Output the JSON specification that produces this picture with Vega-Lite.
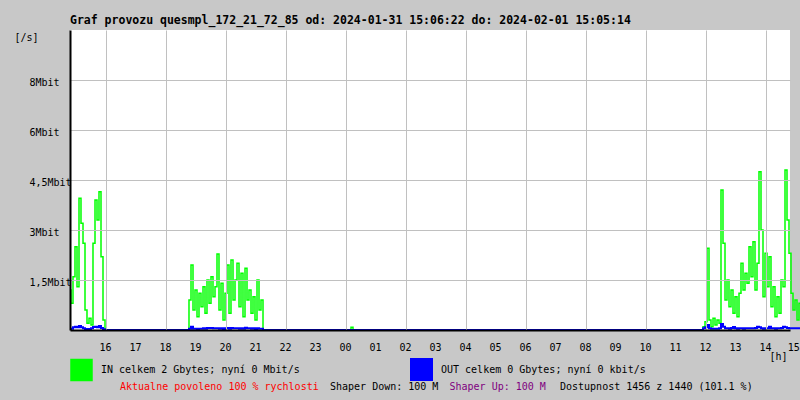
{
  "$schema": "https://vega.github.io/schema/vega-lite/v6.json",
  "width": 720,
  "height": 300,
  "autosize": {"type": "none"},
  "padding": {"left": 70, "top": 30, "right": 10, "bottom": 70},
  "background": "#c8c8c8",
  "config": {"view": {"fill": "white", "stroke": null}, "font": "DejaVu Sans Mono"},
  "title": {"text": "Graf provozu quesmpl_172_21_72_85 od: 2024-01-31 15:06:22 do: 2024-02-01 15:05:14", "anchor": "start", "frame": "group", "font": "DejaVu Sans Mono", "fontSize": 11.5, "fontWeight": "bold", "color": "black", "offset": -5, "baseline": "alphabetic"},
  "layer": [
    {
      "data": {"values": [
        {"h": 14.815, "in": 1.2, "out": 0.03},
        {"h": 14.882, "in": 0.8, "out": 0.04},
        {"h": 14.948, "in": 1.6, "out": 0.08},
        {"h": 15.015, "in": 2.5, "out": 0.1},
        {"h": 15.082, "in": 1.3, "out": 0.08},
        {"h": 15.148, "in": 3.95, "out": 0.12},
        {"h": 15.215, "in": 3.2, "out": 0.08},
        {"h": 15.282, "in": 2.6, "out": 0.05},
        {"h": 15.348, "in": 0.6, "out": 0.03},
        {"h": 15.415, "in": 0.2, "out": 0.02},
        {"h": 15.482, "in": 0.35, "out": 0.03},
        {"h": 15.548, "in": 0.15, "out": 0.05},
        {"h": 15.615, "in": 2.6, "out": 0.09},
        {"h": 15.682, "in": 3.9, "out": 0.1},
        {"h": 15.748, "in": 3.3, "out": 0.08},
        {"h": 15.815, "in": 4.15, "out": 0.12},
        {"h": 15.882, "in": 2.2, "out": 0.06},
        {"h": 15.948, "in": 0.3, "out": 0.02},
        {"h": 16.015, "in": 0, "out": 0},
        {"h": 18.748, "in": 0, "out": 0},
        {"h": 18.815, "in": 0.9, "out": 0.04},
        {"h": 18.882, "in": 1.95, "out": 0.1},
        {"h": 18.948, "in": 0.6, "out": 0.04},
        {"h": 19.015, "in": 1.2, "out": 0.04},
        {"h": 19.082, "in": 0.4, "out": 0.03},
        {"h": 19.148, "in": 1.1, "out": 0.04},
        {"h": 19.215, "in": 0.7, "out": 0.04},
        {"h": 19.282, "in": 1.3, "out": 0.05},
        {"h": 19.348, "in": 0.5, "out": 0.04},
        {"h": 19.415, "in": 1.5, "out": 0.06},
        {"h": 19.482, "in": 0.8, "out": 0.06},
        {"h": 19.548, "in": 1.6, "out": 0.06},
        {"h": 19.615, "in": 1.0, "out": 0.05},
        {"h": 19.682, "in": 1.3, "out": 0.05},
        {"h": 19.748, "in": 2.28, "out": 0.05},
        {"h": 19.815, "in": 0.6, "out": 0.04},
        {"h": 19.882, "in": 1.4, "out": 0.05},
        {"h": 19.948, "in": 0.3, "out": 0.03},
        {"h": 20.015, "in": 1.1, "out": 0.05},
        {"h": 20.082, "in": 1.95, "out": 0.06},
        {"h": 20.148, "in": 0.5, "out": 0.04},
        {"h": 20.215, "in": 2.1, "out": 0.06},
        {"h": 20.282, "in": 0.9, "out": 0.05},
        {"h": 20.348, "in": 1.5, "out": 0.05},
        {"h": 20.415, "in": 2.0, "out": 0.05},
        {"h": 20.482, "in": 0.7, "out": 0.04},
        {"h": 20.548, "in": 1.7, "out": 0.05},
        {"h": 20.615, "in": 0.4, "out": 0.04},
        {"h": 20.682, "in": 1.85, "out": 0.07},
        {"h": 20.748, "in": 0.9, "out": 0.05},
        {"h": 20.815, "in": 1.2, "out": 0.05},
        {"h": 20.882, "in": 0.5, "out": 0.04},
        {"h": 20.948, "in": 1.0, "out": 0.05},
        {"h": 21.015, "in": 0.3, "out": 0.03},
        {"h": 21.082, "in": 1.5, "out": 0.05},
        {"h": 21.148, "in": 0.6, "out": 0.04},
        {"h": 21.215, "in": 0.9, "out": 0.04},
        {"h": 21.282, "in": 0, "out": 0},
        {"h": 24.148, "in": 0, "out": 0},
        {"h": 24.215, "in": 0.08, "out": 0},
        {"h": 24.282, "in": 0, "out": 0},
        {"h": 35.882, "in": 0, "out": 0},
        {"h": 35.948, "in": 0.1, "out": 0.05},
        {"h": 36.015, "in": 0.25, "out": 0.08},
        {"h": 36.082, "in": 2.45, "out": 0.15},
        {"h": 36.148, "in": 0.3, "out": 0.05},
        {"h": 36.215, "in": 0.1, "out": 0.04},
        {"h": 36.282, "in": 0.35, "out": 0.04},
        {"h": 36.348, "in": 0.15, "out": 0.04},
        {"h": 36.415, "in": 0.3, "out": 0.04},
        {"h": 36.482, "in": 0.2, "out": 0.05},
        {"h": 36.548, "in": 4.2, "out": 0.18},
        {"h": 36.615, "in": 2.6, "out": 0.1},
        {"h": 36.682, "in": 0.9, "out": 0.05},
        {"h": 36.748, "in": 1.5, "out": 0.05},
        {"h": 36.815, "in": 0.7, "out": 0.04},
        {"h": 36.882, "in": 1.2, "out": 0.06},
        {"h": 36.948, "in": 0.5, "out": 0.09},
        {"h": 37.015, "in": 1.0, "out": 0.05},
        {"h": 37.082, "in": 0.4, "out": 0.04},
        {"h": 37.148, "in": 1.1, "out": 0.05},
        {"h": 37.215, "in": 2.0, "out": 0.05},
        {"h": 37.282, "in": 1.2, "out": 0.04},
        {"h": 37.348, "in": 1.7, "out": 0.05},
        {"h": 37.415, "in": 1.4, "out": 0.05},
        {"h": 37.482, "in": 2.5, "out": 0.05},
        {"h": 37.548, "in": 1.6, "out": 0.05},
        {"h": 37.615, "in": 2.65, "out": 0.05},
        {"h": 37.682, "in": 1.2, "out": 0.06},
        {"h": 37.748, "in": 2.0, "out": 0.1},
        {"h": 37.815, "in": 4.75, "out": 0.08},
        {"h": 37.882, "in": 3.0, "out": 0.05},
        {"h": 37.948, "in": 1.0, "out": 0.04},
        {"h": 38.015, "in": 2.3, "out": 0.05},
        {"h": 38.082, "in": 1.3, "out": 0.05},
        {"h": 38.148, "in": 2.2, "out": 0.1},
        {"h": 38.215, "in": 0.7, "out": 0.05},
        {"h": 38.282, "in": 1.3, "out": 0.05},
        {"h": 38.348, "in": 0.4, "out": 0.04},
        {"h": 38.415, "in": 1.0, "out": 0.05},
        {"h": 38.482, "in": 0.5, "out": 0.05},
        {"h": 38.548, "in": 1.5, "out": 0.06},
        {"h": 38.615, "in": 1.3, "out": 0.1},
        {"h": 38.682, "in": 4.8, "out": 0.08},
        {"h": 38.748, "in": 3.3, "out": 0.06},
        {"h": 38.815, "in": 2.3, "out": 0.05},
        {"h": 38.882, "in": 1.1, "out": 0.05},
        {"h": 38.948, "in": 0.6, "out": 0.05},
        {"h": 39.015, "in": 0.9, "out": 0.05},
        {"h": 39.082, "in": 0.3, "out": 0.05},
        {"h": 39.148, "in": 0.8, "out": 0.05}
      ]},
      "transform": [{"fold": ["in", "out"], "as": ["series", "v"]}],
      "mark": {"type": "line", "interpolate": "step"},
      "encoding": {
        "x": {"field": "h", "type": "quantitative", "title": "[h]",
          "scale": {"domain": [14.815, 38.815], "nice": false, "zero": false},
          "axis": {"values": [16,17,18,19,20,21,22,23,24,25,26,27,28,29,30,31,32,33,34,35,36,37,38],
            "labels": false, "ticks": false,
            "grid": true, "gridColor": "#c0c0c0", "gridWidth": 1,
            "domain": true, "domainColor": "black", "domainWidth": 2, "zindex": 1,
            "titleFont": "DejaVu Sans Mono", "titleFontSize": 10, "titleFontWeight": "normal", "titleColor": "black",
            "titleX": 708, "titleY": 26, "titleAlign": "center", "titleBaseline": "middle"}},
        "y": {"field": "v", "type": "quantitative", "title": "[/s]",
          "scale": {"domain": [0, 9], "nice": false},
          "axis": {"values": [1.5, 3, 4.5, 6, 7.5],
            "labelExpr": "datum.value == 7.5 ? '8Mbit' : datum.value == 4.5 ? '4,5Mbit' : datum.value == 1.5 ? '1,5Mbit' : datum.value + 'Mbit'",
            "ticks": false, "tickSize": 0, "labelPadding": 41, "labelAlign": "left", "labelBaseline": "middle", "labelOffset": 2,
            "labelFont": "DejaVu Sans Mono", "labelFontSize": 10, "labelColor": "black", "labelFlush": false, "labelOverlap": false,
            "grid": true, "gridColor": "#c0c0c0", "gridWidth": 1,
            "domain": true, "domainColor": "black", "domainWidth": 2, "zindex": 1,
            "titleFont": "DejaVu Sans Mono", "titleFontSize": 10, "titleFontWeight": "normal", "titleColor": "black",
            "titleAngle": 0, "titleX": -44, "titleY": 7, "titleAlign": "center", "titleBaseline": "middle"}},
        "color": {"field": "series", "type": "nominal",
          "scale": {"domain": ["in", "out"], "range": ["#00ff00", "#0000ff"]},
          "legend": {"orient": "none", "legendX": 0, "legendY": 328, "direction": "horizontal", "columns": 2,
            "title": null, "padding": 0, "columnPadding": 107, "symbolType": "square", "symbolSize": 441,
            "labelOffset": 8, "labelLimit": 400, "labelFont": "DejaVu Sans Mono", "labelFontSize": 10, "labelColor": "black",
            "labelExpr": "datum.value == 'in' ? 'IN celkem 2 Gbytes; nyní 0 Mbit/s' : 'OUT celkem 0 Gbytes; nyní 0 kbit/s'",
            "encode": {"symbols": {"update": {"fill": {"scale": "color", "field": "value"}, "stroke": {"value": "black"}, "strokeWidth": {"value": 1.5}}}}}},
        "strokeWidth": {"field": "series", "type": "nominal", "scale": {"domain": ["in", "out"], "range": [1.5, 2]}, "legend": null}
      }
    },
    {
      "mark": {"type": "rule", "color": "black", "strokeWidth": 2},
      "encoding": {"x": {"datum": 38.815}, "y": {"datum": 0}, "y2": {"datum": 9}}
    },
    {
      "mark": {"type": "rule", "color": "black", "strokeWidth": 1},
      "encoding": {"x": {"datum": 14.815}, "x2": {"datum": 38.815}, "y": {"datum": 9}}
    },
    {
      "mark": {"type": "rule", "color": "#ff0000", "strokeWidth": 1},
      "encoding": {"x": {"datum": 14.815}, "x2": {"datum": 39.148}, "y": {"datum": 8.97}}
    },
    {
      "data": {"values": [
        {"h": 16, "lab": "16"}, {"h": 17, "lab": "17"}, {"h": 18, "lab": "18"}, {"h": 19, "lab": "19"},
        {"h": 20, "lab": "20"}, {"h": 21, "lab": "21"}, {"h": 22, "lab": "22"}, {"h": 23, "lab": "23"},
        {"h": 24, "lab": "00"}, {"h": 25, "lab": "01"}, {"h": 26, "lab": "02"}, {"h": 27, "lab": "03"},
        {"h": 28, "lab": "04"}, {"h": 29, "lab": "05"}, {"h": 30, "lab": "06"}, {"h": 31, "lab": "07"},
        {"h": 32, "lab": "08"}, {"h": 33, "lab": "09"}, {"h": 34, "lab": "10"}, {"h": 35, "lab": "11"},
        {"h": 36, "lab": "12"}, {"h": 37, "lab": "13"}, {"h": 38, "lab": "14"}, {"h": 38.94, "lab": "15"}
      ]},
      "mark": {"type": "text", "font": "DejaVu Sans Mono", "fontSize": 10, "color": "black", "align": "center", "baseline": "middle"},
      "encoding": {"x": {"field": "h", "type": "quantitative"}, "y": {"datum": -0.54}, "text": {"field": "lab"}}
    },
    {
      "data": {"values": [{"label": "Aktualne povoleno 100 % rychlosti"}]},
      "mark": {"type": "text", "font": "DejaVu Sans Mono", "fontSize": 10, "color": "#ff0000", "align": "left", "baseline": "middle"},
      "encoding": {"x": {"datum": 16.482}, "y": {"datum": -1.7}, "text": {"field": "label"}}
    },
    {
      "data": {"values": [{"label": "Shaper Down: 100 M"}]},
      "mark": {"type": "text", "font": "DejaVu Sans Mono", "fontSize": 10, "color": "black", "align": "left", "baseline": "middle"},
      "encoding": {"x": {"datum": 23.482}, "y": {"datum": -1.7}, "text": {"field": "label"}}
    },
    {
      "data": {"values": [{"label": "Shaper Up: 100 M"}]},
      "mark": {"type": "text", "font": "DejaVu Sans Mono", "fontSize": 10, "color": "#800080", "align": "left", "baseline": "middle"},
      "encoding": {"x": {"datum": 27.465}, "y": {"datum": -1.7}, "text": {"field": "label"}}
    },
    {
      "data": {"values": [{"label": "Dostupnost 1456 z 1440 (101.1 %)"}]},
      "mark": {"type": "text", "font": "DejaVu Sans Mono", "fontSize": 10, "color": "black", "align": "left", "baseline": "middle"},
      "encoding": {"x": {"datum": 31.148}, "y": {"datum": -1.7}, "text": {"field": "label"}}
    }
  ]
}
